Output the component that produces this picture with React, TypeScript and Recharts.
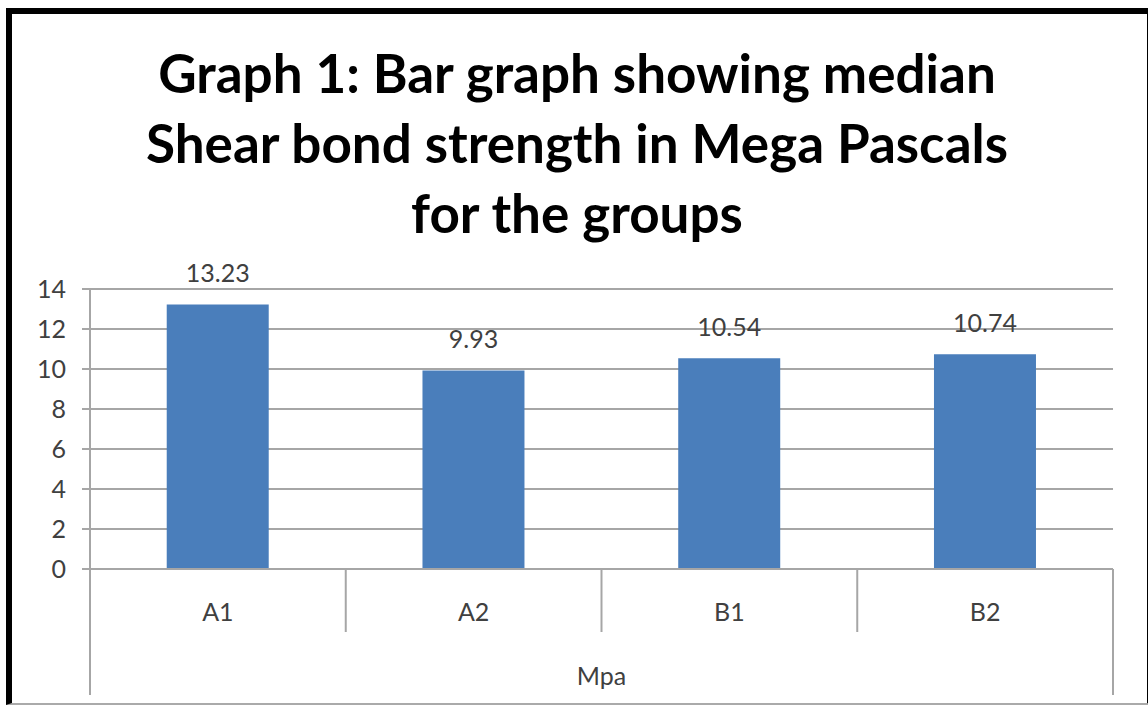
import React from "react";
import { Bar, BarChart, CartesianGrid, LabelList, XAxis, YAxis } from "recharts";

const categories = ["A1", "A2", "B1", "B2"];
const medianMpa = [13.23, 9.93, 10.54, 10.74];
const yTicks = [0, 2, 4, 6, 8, 10, 12, 14];
const titleLines = [
  "Graph 1: Bar graph showing median",
  "Shear bond strength in Mega Pascals",
  "for the groups",
];
const groupLabel = "Mpa";

const FONT = "Lato, 'Open Sans', sans-serif";
const GRID = "#a6a6a6";
const TEXT = "#404040";
const LABEL_SIZE = 25;

const rows = categories.map((name, i) => ({ name, value: medianMpa[i] }));

function CategoryTick(props: any) {
  const { x, y, payload, index } = props;
  const half = payload?.offset ?? 128;
  const last = index === categories.length - 1;
  return (
    <g>
      {/* group boundary on the left: long for the first, short otherwise */}
      <line
        x1={x - half}
        x2={x - half}
        y1={y}
        y2={y + (index === 0 ? 126 : 63)}
        stroke={GRID}
        strokeWidth={2}
      />
      {last && (
        <line x1={x + half} x2={x + half} y1={y} y2={y + 126} stroke={GRID} strokeWidth={2} />
      )}
      <text x={x} y={y + 52} textAnchor="middle" fill={TEXT} fontSize={LABEL_SIZE} fontFamily={FONT}>
        {payload.value}
      </text>
    </g>
  );
}

export default function App() {
  return (
    <div style={{ position: "absolute", left: 0, top: 0, width: 1148, height: 707, background: "#fff" }}>
      <div
        style={{
          position: "absolute",
          left: 6,
          top: 8,
          width: 1135,
          height: 689,
          borderTop: "6px solid #000",
          borderLeft: "6px solid #000",
          borderRight: "6px solid #000",
          borderBottom: "2px solid #aaa",
        }}
      />
      <div
        style={{
          position: "absolute",
          left: 0,
          top: 38,
          width: 1154,
          textAlign: "center",
          fontFamily: FONT,
          fontWeight: 700,
          fontSize: 53,
          lineHeight: "70px",
          color: "#000",
        }}
      >
        {titleLines.map((t) => (
          <div key={t}>{t}</div>
        ))}
      </div>
      <BarChart
        width={1148}
        height={707}
        data={rows}
        margin={{ top: 289, right: 35, bottom: 8, left: 0 }}
        barCategoryGap="30%"
        style={{ position: "absolute", left: 0, top: 0 }}
      >
        <CartesianGrid horizontal vertical={false} stroke={GRID} strokeWidth={2} />
        <XAxis
          dataKey="name"
          height={130}
          stroke={GRID}
          strokeWidth={2}
          tickLine={false}
          tickSize={0}
          tickMargin={0}
          interval={0}
          tick={<CategoryTick />}
          label={{
            value: groupLabel,
            position: "insideBottom",
            offset: 14,
            fill: TEXT,
            fontSize: LABEL_SIZE,
            fontFamily: FONT,
          }}
        />
        <YAxis
          width={90}
          domain={[0, 14]}
          ticks={yTicks}
          interval={0}
          stroke={GRID}
          strokeWidth={2}
          tickSize={8}
          tickMargin={16}
          tick={{ fill: TEXT, fontSize: LABEL_SIZE, fontFamily: FONT }}
        />
        <Bar dataKey="value" fill="#4a7ebb" isAnimationActive={false}>
          <LabelList
            dataKey="value"
            position="top"
            offset={22}
            fill={TEXT}
            fontSize={LABEL_SIZE}
            fontFamily={FONT}
          />
        </Bar>
      </BarChart>
    </div>
  );
}
